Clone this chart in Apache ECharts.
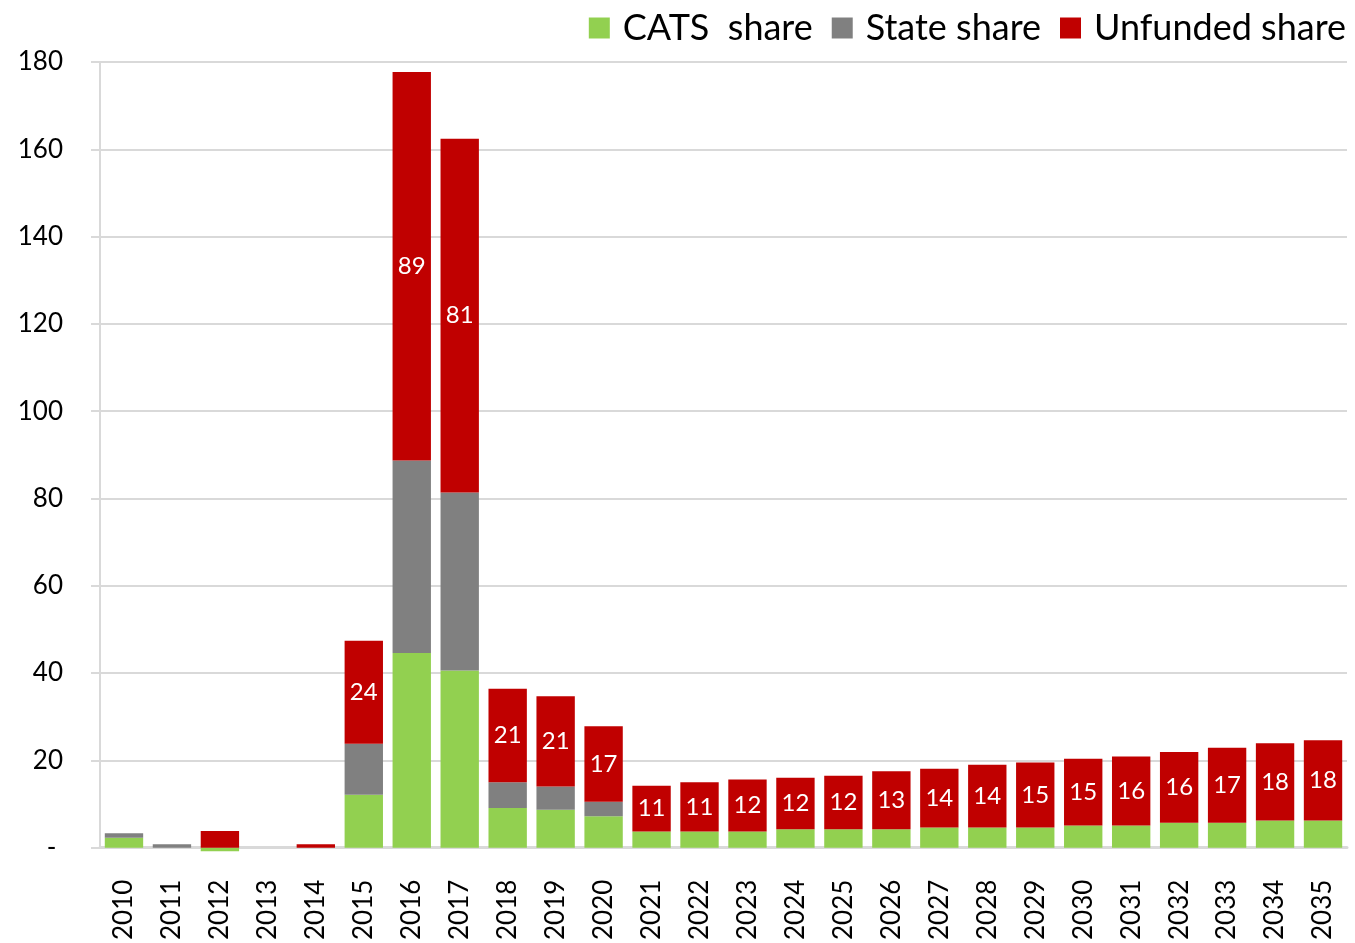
<!DOCTYPE html>
<html>
<head>
<meta charset="utf-8">
<script src="https://cdn.jsdelivr.net/npm/echarts@6/dist/echarts.min.js"></script>
<style>
  html, body { margin: 0; padding: 0; background: #fff; }
  #chart { width: 1355px; height: 943px; }
</style>
</head>
<body>
<div id="chart"></div>
<script>
// years on the x axis
const years = ['2010', '2011', '2012', '2013', '2014', '2015', '2016', '2017', '2018', '2019', '2020', '2021', '2022',
    '2023', '2024', '2025', '2026', '2027', '2028', '2029', '2030', '2031', '2032', '2033', '2034', '2035'];
// stacked shares
const catsShare = [2.3, 0, -0.8, 0, 0, 12.1, 44.6, 40.6, 9.1, 8.7, 7.2, 3.7, 3.7, 3.7, 4.2, 4.2, 4.2, 4.6, 4.6, 4.6,
    5.1, 5.1, 5.7, 5.7, 6.2, 6.2];
const stateShare = [1.0, 0.8, 0, 0, 0, 11.7, 44.1, 40.8, 5.9, 5.3, 3.3, 0, 0, 0, 0, 0, 0, 0, 0, 0, 0, 0, 0, 0, 0, 0];
const unfundedShare = [0, 0, 3.8, 0, 0.8, 23.6, 89.0, 81.0, 21.4, 20.7, 17.3, 10.5, 11.3, 11.9, 11.8, 12.3, 13.3,
    13.5, 14.4, 14.9, 15.3, 15.8, 16.2, 17.2, 17.7, 18.4];

const font = 'Lato';
var myChart = echarts.init(document.getElementById('chart'));

var option = {
    animation: false,
    textStyle: { fontFamily: font },
    legend: {
        top: 5,
        right: 4,
        itemWidth: 21,
        itemHeight: 21,
        itemGap: 19,
        icon: 'rect',
        textStyle: { fontSize: 36, color: '#000', fontFamily: font, padding: [0, 0, 0, 8] }
    },
    grid: { left: 100, right: 8, top: 62, bottom: 94 },
    xAxis: {
        type: 'category',
        data: years,
        axisLine: { lineStyle: { color: '#D9D9D9', width: 3 } },
        axisTick: { show: false },
        axisLabel: { rotate: 90, margin: 32, fontSize: 26, color: '#000', fontFamily: font }
    },
    yAxis: {
        type: 'value',
        min: 0,
        max: 180,
        interval: 20,
        axisLine: { show: true, lineStyle: { color: '#D9D9D9', width: 2 } },
        axisTick: { show: true, length: 9, lineStyle: { color: '#D9D9D9', width: 2 } },
        splitLine: { lineStyle: { color: '#D9D9D9', width: 2 } },
        axisLabel: {
            margin: 37, fontSize: 26, color: '#000', fontFamily: font,
            formatter: v => v === 0 ? '- ' : v
        }
    },
    series: [
        {
            name: 'CATS  share', type: 'bar', stack: 'total', barCategoryGap: '20%', clip: false,
            itemStyle: { color: '#92D050' },
            data: catsShare
        },
        {
            name: 'State share', type: 'bar', stack: 'total',
            itemStyle: { color: '#808080' },
            data: stateShare
        },
        {
            name: 'Unfunded share', type: 'bar', stack: 'total',
            itemStyle: { color: '#C00000' },
            label: {
                show: true, position: 'inside', color: '#fff', fontSize: 24, fontFamily: font,
                formatter: p => p.value >= 5 ? Math.round(p.value) : ''
            },
            data: unfundedShare
        }
    ]
};

myChart.setOption(option);
</script>
</body>
</html>
